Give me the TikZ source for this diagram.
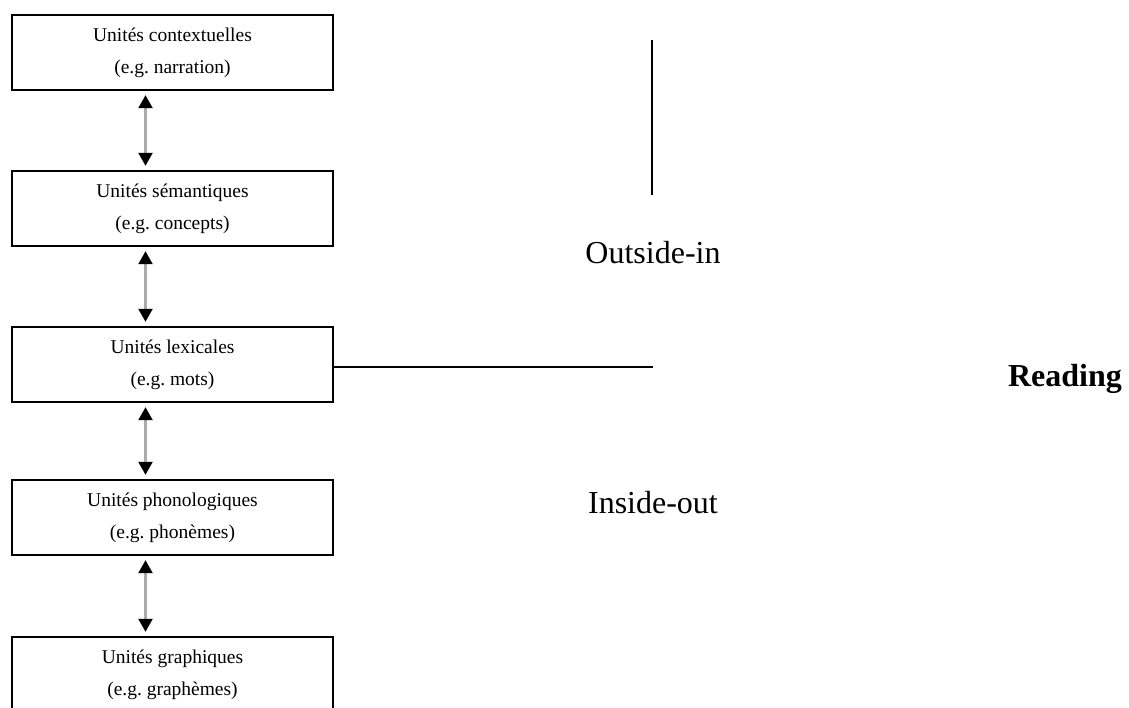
\documentclass[tikz,border=0pt]{standalone}
\usepackage{fontspec}
\setmainfont{Liberation Serif}
\usetikzlibrary{arrows.meta}
\begin{document}
\frenchspacing
\begin{tikzpicture}[x=1pt,y=-1pt,
  unitbox/.style={draw=black, line width=2.4pt, minimum width=321pt, minimum height=75pt,
    inner sep=0pt, align=center, font=\fontsize{19.5}{32}\selectfont},
  link/.style={draw=gray!65, line width=2.2pt, shorten <=4pt, shorten >=4pt,
    {Triangle[length=13pt,width=14pt,color=black]}-{Triangle[length=13pt,width=14pt,color=black]}},
  branch/.style={draw=black, line width=2.2pt},
  sidelabel/.style={font=\fontsize{32}{38}\selectfont, inner sep=0pt}]
\useasboundingbox (0,0) rectangle (1129,708);
\fill[white] (0,0) rectangle (1129,708);
\node[unitbox] (b1) at (172.5,52.5) {Unités contextuelles\\(e.g. narration)};
\node[unitbox] (b2) at (172.5,208.5) {Unités sémantiques\\(e.g. concepts)};
\node[unitbox] (b3) at (172.5,364.5) {Unités lexicales\\(e.g. mots)};
\node[unitbox] (b4) at (172.5,517.5) {Unités phonologiques\\(e.g. phonèmes)};
\node[unitbox] (b5) at (172.5,674.5) {Unités graphiques\\(e.g. graphèmes)};
\draw[link] ([xshift=-27pt]b1.south) -- ([xshift=-27pt]b2.north);
\draw[link] ([xshift=-27pt]b2.south) -- ([xshift=-27pt]b3.north);
\draw[link] ([xshift=-27pt]b3.south) -- ([xshift=-27pt]b4.north);
\draw[link] ([xshift=-27pt]b4.south) -- ([xshift=-27pt]b5.north);
\coordinate (vtop) at (652,40);
\coordinate (vbot) at (652,195);
\coordinate (hend) at (653,367);
\draw[branch] (vtop) -- (vbot);
\draw[branch] (b3.east |- hend) -- (hend);
\node[sidelabel] (out) at (653,253) {Outside-in};
\node[sidelabel] (ins) at (653,503) {Inside-out};
\node[sidelabel, font=\fontsize{32}{38}\selectfont\bfseries] (read) at (1065,379) {Reading};
\end{tikzpicture}
\end{document}
